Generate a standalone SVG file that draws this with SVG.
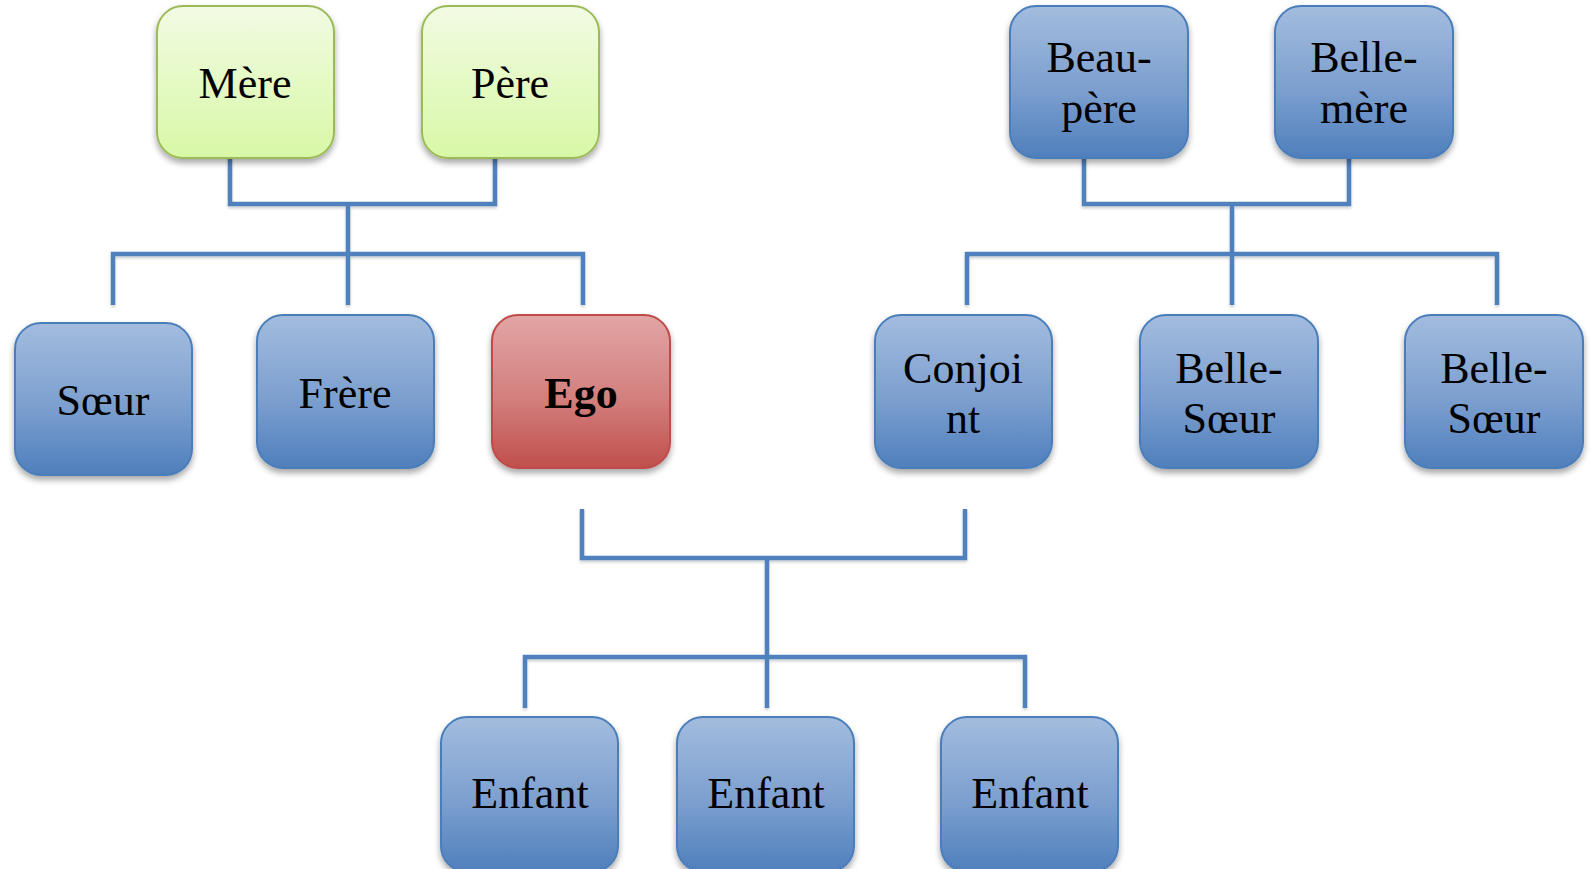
<svg xmlns="http://www.w3.org/2000/svg" width="1592" height="869" viewBox="0 0 1592 869">
<defs>
<linearGradient id="gBlue" x1="0" y1="0" x2="0" y2="1">
<stop offset="0" stop-color="#A3BCDE"/><stop offset="0.55" stop-color="#7C9FCF"/><stop offset="1" stop-color="#4F7FBC"/>
</linearGradient>
<linearGradient id="gGreen" x1="0" y1="0" x2="0" y2="1">
<stop offset="0" stop-color="#F2FBE3"/><stop offset="1" stop-color="#D8F8A6"/>
</linearGradient>
<linearGradient id="gRed" x1="0" y1="0" x2="0" y2="1">
<stop offset="0" stop-color="#E1A6A5"/><stop offset="0.55" stop-color="#D27F7D"/><stop offset="1" stop-color="#C04F4C"/>
</linearGradient>
<filter id="sh" x="-10%" y="-10%" width="120%" height="130%">
<feDropShadow dx="0" dy="4" stdDeviation="3" flood-color="#000" flood-opacity="0.35"/>
</filter>
<filter id="lsh" filterUnits="userSpaceOnUse" x="0" y="0" width="1592" height="869">
<feDropShadow dx="0" dy="2" stdDeviation="1.5" flood-color="#000" flood-opacity="0.2"/>
</filter>
</defs>
<style>
.blue{fill:url(#gBlue);stroke:#4A7EBB;stroke-width:2}
.green{fill:url(#gGreen);stroke:#9BBB59;stroke-width:2}
.red{fill:url(#gRed);stroke:#BE4B48;stroke-width:2}
.box{filter:url(#sh)}
.t{font-family:"Liberation Serif","DejaVu Serif",serif;font-size:44px;fill:#000;text-anchor:middle}
.b{font-weight:bold}
.c{fill:none;stroke:#4F81BD;stroke-width:4.5}
</style>
<g id="connectors" filter="url(#lsh)">
<path class="c" d="M230,154 V204 H495 V154"/>
<path class="c" d="M348,204 V305"/>
<path class="c" d="M113,305 V254 H583 V305"/>
<path class="c" d="M1084,154 V204 H1349 V154"/>
<path class="c" d="M1232,204 V305"/>
<path class="c" d="M967,305 V254 H1497 V305"/>
<path class="c" d="M582,509 V558 H965 V509"/>
<path class="c" d="M767,558 V708"/>
<path class="c" d="M525,708 V657 H1025 V708"/>
</g>
<g id="mere"><rect class="box green" x="157" y="6" width="177" height="152" rx="26"/><text class="t" x="245" y="98">Mère</text></g>
<g id="pere"><rect class="box green" x="422" y="6" width="177" height="152" rx="26"/><text class="t" x="510" y="98">Père</text></g>
<g id="beaupere"><rect class="box blue" x="1010" y="6" width="178" height="152" rx="26"/><text class="t" x="1099" y="72">Beau-</text><text class="t" x="1099" y="123">père</text></g>
<g id="bellemere"><rect class="box blue" x="1275" y="6" width="178" height="152" rx="26"/><text class="t" x="1364" y="72">Belle-</text><text class="t" x="1364" y="123">mère</text></g>
<g id="soeur"><rect class="box blue" x="15" y="323" width="177" height="152" rx="26"/><text class="t" x="103" y="415">Sœur</text></g>
<g id="frere"><rect class="box blue" x="257" y="315" width="177" height="153" rx="26"/><text class="t" x="345" y="408">Frère</text></g>
<g id="ego"><rect class="box red" x="492" y="315" width="178" height="153" rx="26"/><text class="t b" x="581" y="408">Ego</text></g>
<g id="conjoint"><rect class="box blue" x="875" y="315" width="177" height="153" rx="26"/><text class="t" x="963" y="383">Conjoi</text><text class="t" x="963" y="433">nt</text></g>
<g id="bellesoeur1"><rect class="box blue" x="1140" y="315" width="178" height="153" rx="26"/><text class="t" x="1229" y="383">Belle-</text><text class="t" x="1229" y="433">Sœur</text></g>
<g id="bellesoeur2"><rect class="box blue" x="1405" y="315" width="178" height="153" rx="26"/><text class="t" x="1494" y="383">Belle-</text><text class="t" x="1494" y="433">Sœur</text></g>
<g id="enfant1"><rect class="box blue" x="441" y="717" width="177" height="155" rx="26"/><text class="t" x="530" y="808">Enfant</text></g>
<g id="enfant2"><rect class="box blue" x="677" y="717" width="177" height="155" rx="26"/><text class="t" x="766" y="808">Enfant</text></g>
<g id="enfant3"><rect class="box blue" x="941" y="717" width="177" height="155" rx="26"/><text class="t" x="1030" y="808">Enfant</text></g>
</svg>
